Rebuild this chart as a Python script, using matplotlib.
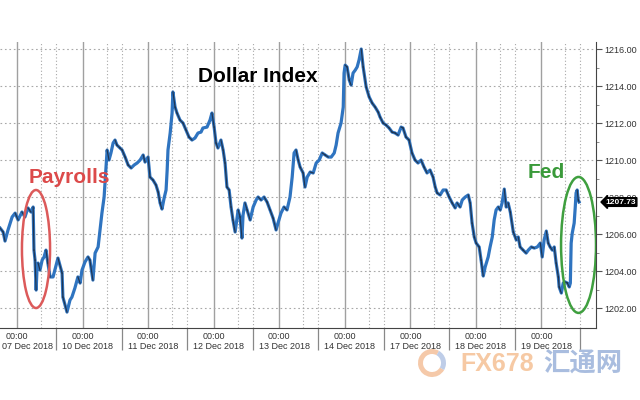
import numpy as np
import matplotlib.pyplot as plt
import matplotlib.transforms as mtransforms
from matplotlib.patches import Ellipse, Wedge

# hours of trading time since 07 Dec 2018 00:00
hours = [-6.3, -5.2, -4.5, -3.4, -1.9, -0.8, 0.3, 1.7, 2.8, 3.9, 5.0, 5.8, 6.1, 6.5, 6.9, 7.2,
         7.6, 8.3, 9.1, 9.8, 10.5, 11.2, 12.0, 13.1, 14.9, 16.4, 16.7, 18.2, 19.3, 20.0, 21.1,
         22.2, 23.0, 23.7, 24.8, 25.9, 26.6, 27.7, 28.5, 29.6, 30.3, 31.0, 31.8, 32.5, 32.9,
         33.6, 34.3, 35.1, 35.8, 36.5, 37.6, 38.4, 39.5, 40.6, 41.7, 42.8, 43.9, 45.0, 46.1,
         46.8, 47.9, 48.6, 49.7, 50.8, 51.6, 52.3, 53.0, 53.8, 54.5, 54.9, 55.2, 56.0, 56.7,
         57.0, 57.8, 58.5, 59.6, 60.7, 61.8, 62.9, 64.0, 65.1, 66.2, 67.3, 68.0, 69.5, 70.6,
         71.3, 72.1, 72.8, 73.5, 74.6, 75.4, 76.1, 76.8, 77.6, 78.3, 79.0, 79.8, 80.9, 81.6,
         82.3, 82.7, 83.4, 84.2, 85.3, 86.4, 87.5, 88.2, 89.3, 90.4, 91.5, 92.6, 93.7, 94.8,
         95.5, 96.6, 97.7, 98.8, 99.9, 100.7, 101.4, 102.1, 102.9, 103.6, 104.7, 105.4, 106.2,
         107.3, 108.4, 109.5, 110.6, 111.7, 112.8, 113.9, 115.0, 116.1, 116.8, 117.5, 118.6,
         119.4, 119.7, 120.1, 120.8, 121.6, 122.3, 123.0, 123.8, 124.5, 125.2, 126.0, 126.7,
         127.8, 128.9, 130.0, 131.1, 132.2, 132.9, 134.0, 135.1, 136.2, 137.3, 138.4, 139.5,
         140.6, 141.3, 142.4, 143.5, 144.6, 145.7, 146.8, 147.9, 149.0, 150.1, 151.2, 152.3,
         153.1, 153.8, 154.9, 156.0, 157.1, 158.2, 159.3, 160.4, 161.1, 162.2, 163.0, 164.1,
         165.2, 165.9, 166.6, 167.4, 168.1, 169.2, 169.9, 170.7, 171.4, 172.5, 173.2, 174.0,
         174.7, 175.4, 176.2, 176.9, 177.6, 178.4, 179.1, 179.8, 180.6, 181.7, 182.8, 183.5,
         184.2, 185.3, 186.4, 187.2, 188.3, 189.4, 190.5, 191.6, 192.3, 193.0, 193.8, 194.5,
         195.2, 196.0, 196.7, 197.4, 198.2, 198.5, 199.3, 200.0, 200.7, 201.5, 202.2, 202.6,
         202.9, 203.3, 204.0, 204.4, 204.7, 205.1, 205.5, 205.8]

dxy = [1206.32, 1206.11, 1205.62, 1206.22, 1206.92, 1207.13, 1206.76, 1207.19, 1206.92, 1207.41,
       1207.19, 1207.46, 1205.13, 1204.59, 1202.97, 1204.05, 1204.43, 1204.05, 1204.59, 1204.76,
       1205.13, 1204.43, 1203.68, 1203.68, 1204.70, 1203.89, 1202.59, 1201.78, 1202.43, 1202.59,
       1203.08, 1203.68, 1203.35, 1204.05, 1204.49, 1204.76, 1204.59, 1203.51, 1204.97, 1205.30,
       1206.22, 1207.13, 1208.00, 1209.62, 1210.54, 1210.00, 1210.38, 1210.92, 1211.08, 1210.81,
       1210.65, 1210.54, 1210.16, 1209.73, 1209.57, 1209.73, 1209.84, 1210.00, 1210.27, 1209.89,
       1210.16, 1209.08, 1208.92, 1208.65, 1208.27, 1207.68, 1207.35, 1207.95, 1208.38, 1209.46,
       1210.54, 1211.46, 1212.54, 1213.68, 1212.86, 1212.54, 1212.16, 1212.00, 1211.62, 1211.24,
       1211.08, 1211.19, 1211.46, 1211.51, 1211.73, 1211.78, 1212.16, 1212.54, 1211.78, 1210.92,
       1210.65, 1211.08, 1210.54, 1209.84, 1208.54, 1208.38, 1207.46, 1206.76, 1206.11, 1207.30,
       1206.92, 1205.78, 1207.03, 1207.68, 1207.30, 1206.76, 1207.46, 1207.84, 1208.00, 1207.84,
       1208.00, 1207.73, 1207.30, 1206.86, 1206.22, 1206.59, 1207.13, 1207.46, 1207.30, 1208.00,
       1209.08, 1210.38, 1210.54, 1210.00, 1209.62, 1209.30, 1208.54, 1209.08, 1209.35, 1209.30,
       1209.84, 1210.00, 1210.38, 1210.27, 1210.16, 1210.16, 1210.38, 1210.81, 1211.46, 1212.00,
       1212.86, 1214.70, 1215.13, 1215.03, 1214.32, 1214.05, 1214.70, 1214.86, 1215.03, 1215.41,
       1216.00, 1215.03, 1213.95, 1213.41, 1213.08, 1212.86, 1212.59, 1212.32, 1212.00, 1211.89,
       1211.73, 1211.51, 1211.46, 1211.35, 1211.78, 1211.73, 1211.24, 1211.08, 1210.38, 1210.00,
       1209.84, 1210.00, 1209.62, 1209.30, 1209.46, 1209.08, 1208.54, 1208.22, 1208.11, 1208.38,
       1208.38, 1208.00, 1207.68, 1207.41, 1207.68, 1207.46, 1207.84, 1208.00, 1208.11, 1207.68,
       1206.59, 1205.84, 1205.51, 1205.30, 1204.59, 1203.73, 1204.22, 1204.76, 1205.30, 1205.84,
       1206.76, 1207.30, 1207.46, 1207.30, 1207.68, 1208.43, 1207.46, 1207.68, 1207.19, 1206.11,
       1205.68, 1205.84, 1205.30, 1205.13, 1204.97, 1205.13, 1205.30, 1205.24, 1205.30, 1205.51,
       1204.76, 1205.68, 1206.16, 1205.51, 1205.30, 1205.13, 1205.30, 1204.43, 1203.68, 1203.14,
       1202.81, 1203.35, 1203.41, 1203.35, 1203.14, 1203.35, 1205.51, 1206.05, 1206.59, 1207.46,
       1208.22, 1208.38, 1207.84, 1207.73]

day_labels = ["07 Dec 2018", "10 Dec 2018", "11 Dec 2018", "12 Dec 2018", "13 Dec 2018",
              "14 Dec 2018", "17 Dec 2018", "18 Dec 2018", "19 Dec 2018"]
y_ticks = [1202, 1204, 1206, 1208, 1210, 1212, 1214, 1216]
last_price = 1207.73

blue = "#2f74c0"
dark = "#1b2230"
grid_c = "#a8a8a8"
txt_c = "#333333"

fig = plt.figure(figsize=(6.4, 4), dpi=100)
ax = fig.add_axes([0.0, 0.18, 0.93125, 0.715])

# grid
day_pos = np.arange(len(day_labels)) * 24.0
for d in day_pos:
    ax.axvline(d, color="#a0a0a0", lw=1.0, zorder=1)
    ax.axvline(d + 8.8, color=grid_c, lw=0.8, ls=(0, (1, 2)), zorder=1)
    ax.axvline(d + 14.3, color=grid_c, lw=0.8, ls=(0, (1, 2)), zorder=1)
for v in y_ticks:
    ax.axhline(v, color=grid_c, lw=0.8, ls=(0, (1.5, 2.5)), zorder=1)

# price line: blue with dark segments on down moves
x = np.array(hours)
y = np.array(dxy)
ax.plot(x, y, color=blue, lw=2.3, solid_joinstyle="round", zorder=3)
for i in range(len(x) - 1):
    if y[i + 1] < y[i]:
        ax.plot(x[i:i + 2], y[i:i + 2], color=dark, lw=0.9, alpha=0.75, zorder=4)

ax.set_xlim(-6.34, 212.0)
ax.set_ylim(1200.92, 1216.38)

for s in ["top", "left"]:
    ax.spines[s].set_visible(False)
ax.spines["right"].set_color("#444444")
ax.spines["bottom"].set_color("#444444")

ax.yaxis.tick_right()
ax.set_yticks(y_ticks)
ax.set_yticklabels([f"{v:.2f}" for v in y_ticks], fontsize=6.5, color=txt_c,
                   family="Liberation Sans")
ax.set_yticks([v + 1 for v in y_ticks[:-1]], minor=True)
ax.tick_params(axis="y", which="major", length=4, color="#555555", pad=2)
ax.tick_params(axis="y", which="minor", length=2, color="#777777")

ax.set_xticks(day_pos)
ax.set_xticklabels(["00:00"] * len(day_pos), fontsize=6.5, color=txt_c,
                   family="Liberation Sans")
ax.set_xticks(day_pos + 14.3, minor=True)
ax.tick_params(axis="x", which="major", length=0, pad=3)
ax.tick_params(axis="x", which="minor", length=16, color="#888888", width=0.9)

# date labels under the 00:00 ticks
xtrans = mtransforms.blended_transform_factory(ax.transData, fig.transFigure)
for i, lbl in enumerate(day_labels):
    xc = day_pos[i] + (3.7 if i == 0 else 1.8)
    ax.text(xc, 1 - 346.5 / 400, lbl, transform=xtrans, fontsize=6.5, color=txt_c,
            family="Liberation Sans", ha="center", va="center", clip_on=False)

# last price tag
trans = mtransforms.blended_transform_factory(ax.transAxes, ax.transData)
ax.text(1.016, last_price, "1207.73", transform=trans, fontsize=6, color="white",
        family="Liberation Sans", fontweight="bold", va="center", ha="left", zorder=10,
        bbox=dict(boxstyle="larrow,pad=0.1", fc="black", ec="black"), clip_on=False)

# annotations
ax.add_patch(Ellipse((6.85, 1205.19), 10.3, 6.38, fill=False, ec="#dc5a5a", lw=1.8, zorder=5))
ax.add_patch(Ellipse((205.6, 1205.41), 12.8, 7.35, fill=False, ec="#3f9f3f", lw=1.8, zorder=5))

fig.text(258 / 640, 1 - 82 / 400, "Dollar Index", fontsize=15, fontweight="bold",
         family="Liberation Sans", color="black", ha="center", va="baseline")
fig.text(69 / 640, 1 - 183 / 400, "Payrolls", fontsize=15, fontweight="bold",
         family="Liberation Sans", color="#dc4a4a", ha="center", va="baseline")
fig.text(546 / 640, 1 - 178 / 400, "Fed", fontsize=15, fontweight="bold",
         family="Liberation Sans", color="#3a9a3a", ha="center", va="baseline")

# watermark
ring_c = (4.32, 0.37)
fig.patches.append(Wedge(ring_c, 0.14, 60, 330, width=0.05, transform=fig.dpi_scale_trans,
                         fc="#f4c3a0", ec="none", alpha=0.9))
fig.patches.append(Wedge(ring_c, 0.14, 330, 60, width=0.05, transform=fig.dpi_scale_trans,
                         fc="#b7c8e6", ec="none", alpha=0.9))
fig.text(497 / 640, 1 - 364 / 400, "FX678", fontsize=18, fontweight="bold",
         family="Liberation Sans", color="#f5c49a", ha="center", va="center", alpha=0.9)
fig.text(583 / 640, 1 - 364 / 400, "汇通网", fontsize=19, fontweight="bold",
         family=["Noto Sans CJK SC", "DejaVu Sans"], color="#a9bddf", ha="center", va="center")

fig.savefig("out.png", dpi=100)
